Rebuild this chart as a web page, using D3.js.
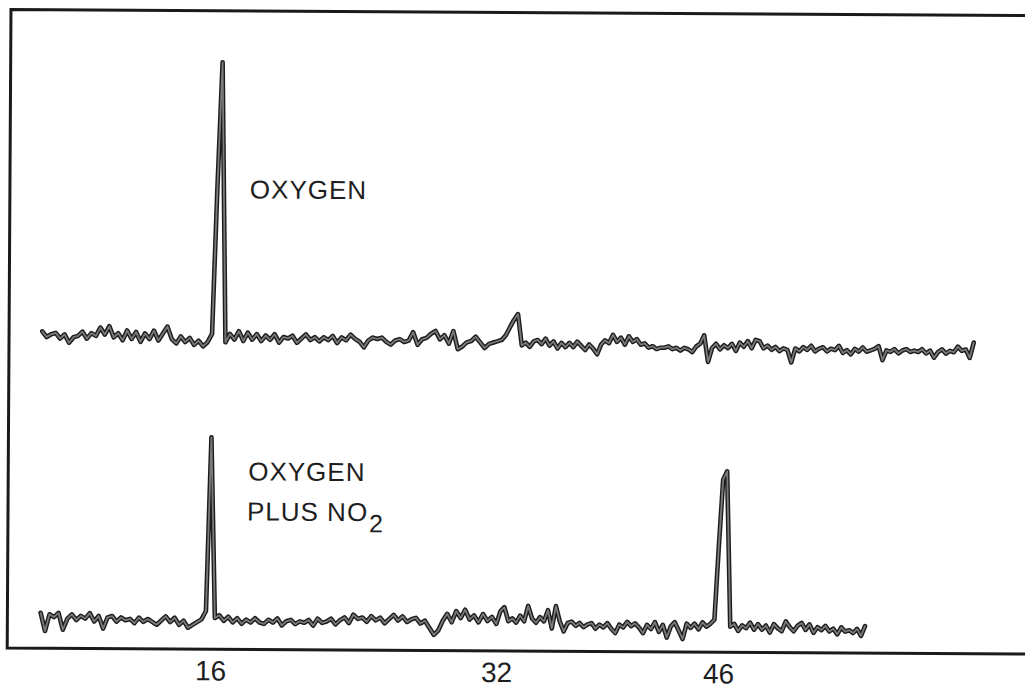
<!DOCTYPE html>
<html>
<head>
<meta charset="utf-8">
<script src="https://cdn.jsdelivr.net/npm/d3@7"></script>
<style>
  html, body { margin: 0; background: #fff; }
  svg { display: block; }
  text { font-family: "Liberation Sans", "DejaVu Sans", sans-serif; fill: #1e1e1e; }
</style>
</head>
<body>
<svg id="chart" width="1025" height="692"></svg>
<script>
// Mass numbers marked under the recorder trace
const massTicks = [16, 32, 46];

// Both traces are sampled on the same mass grid
const scanStart = 6.5;
const scanStep = 0.25;

// Recorder deflection (relative units) for pure oxygen, m/e 6.5 ... 62
const oxygenTrace = [
  3.5, 1.5, 2.5, 3, 1, 2.5, -0.5, 1.5,
  2, 3.5, 1, 3, 2, 5, 2.5, 5.5,
  1.5, 3, 0.5, 4, 1, 3.5, 0, 3,
  1, 4, 0.5, 3, 5.5, 1, -0.5, 2,
  0, 1.5, -1, 0.5, -1.5, 0, 3, 55,
  100, 0, 3, 1, 4, 0.5, 3.5, 1,
  3, 0.5, 2.5, 1, 3, 0, 2, 1.5,
  2.5, 0, 1.5, 3, 1, 2, 0.5, 2,
  1, 2.5, 0, 2, 1, 3, 1.5, 0.5,
  -1.5, 1, 2, 1.5, 2, 0.5, -0.5, 1,
  1.5, 0.5, 1, 4, -0.5, 1.5, 2, 3.5,
  4.5, 1.5, 3, 0, 4.5, -2, -1, 0.5,
  1, 2.5, 0.5, -1.5, 0, 0.5, 1, 1.5,
  3.2, 6, 8.6, 10.7, -0.5, 0.5, -1, 1,
  1.5, 0, 2, -0.5, 1, -1.5, 0.5, -1,
  0.5, -1, 1, -0.5, -2, 0, -1.5, -3.5,
  0, 1.5, 0.5, 3.5, 1, 2.5, 0, 3,
  1, 2, 0, 0.5, -1, -0.5, -1.5, -1,
  -1, -0.5, -1.5, -1, -2, -1, -1.5, -2.5,
  -0.5, 0.5, 3.5, -6, -1, 0.5, -1.5, 0,
  -1, 0.5, -2, 1, -0.5, 1.5, -1, 2,
  1.5, -1, 0, -1.5, -0.5, -2, -1, -1.5,
  -6, -1, -2, -0.5, -1.5, 0, -2, -1,
  -0.5, -2, -1, -1.5, 0, -2.5, -1.5, -3,
  -1, -2, -0.5, -2, -1.5, -1, 0, -5,
  -1.5, -2, -1, -2.5, -1.5, -1, -2, -1.5,
  -2, -1, -2.5, -1.5, -4, -2, -1, -2.5,
  -1.5, -2, 0, -1.5, -1, -4, 1.5
];

// Recorder deflection for oxygen plus NO2, m/e 6.5 ... 55.25
const no2Trace = [
  3, -3.5, 2.5, 1.5, 3, -3, 1, 2.5,
  0.5, 2, 1, 3, 0, 2, -2.5, 1.5,
  2, 0, 1.5, 0.5, 1, -0.5, 1.5, 0,
  1, 0, -1, 0.5, 2, 0, 1.5, -1,
  0.5, -2, -1, 0, 1, 4, 66, 1.5,
  2.5, 0.5, 2, 0, 1.5, -0.5, 1, 0,
  1.5, 0, -0.5, 1, 0, 1.5, -1, 0.5,
  1, -0.5, 0.5, 0, 1, -1, 1.5, 0,
  0.5, 1.5, -0.5, 1, 2, 0, 3, 1.5,
  2, 0.5, 2.5, 1, 2, 0, 1.5, 3,
  1, 2.5, 0.5, 1.5, 2, 0, 1, -1.5,
  -4, -2.5, 1, 3.5, 0.5, 4.5, 2, 5,
  1.5, 3, 0.5, 3.5, 1, 2.5, 0, 4.5,
  6, 1, 2, 0.5, 3, 1, 6.5, 2,
  0.5, 2.5, 1, 5, -1.5, 6.5, 1, -2.5,
  0.5, 1, -0.5, 0.5, -1, 0, 0.5, -1.5,
  0, -1, 0.5, -1.5, -3, 0, -1, 1,
  -0.5, 0.5, -1, -3, 0, -1.5, 1, -2.5,
  0, -4.5, -0.5, 1, -2, -5, 0.5, -1,
  0.5, -1.5, 1, -0.5, 0.5, 2, 28, 52,
  55, -0.5, 0.5, -2, 0, -1, 1, -1.5,
  0.5, -1.5, 0, -2.5, 0.5, -1, -2, 1.5,
  -0.5, -2, 0, 1, -1.5, 0.5, -2.5, -0.5,
  -1.5, 0, -2, -1, -3, -0.5, -2, -1.5,
  -2.5, -1, -3.5, 0
];

const svg = d3.select("#chart");
// the whole sheet sits very slightly rotated
const sheet = svg.append("g").attr("transform", "rotate(0.34,512,346)");

// mass scale (the recorder sweep is not linear in mass)
const x = d3.scaleLinear().domain(massTicks).range([212, 498, 720]);
const yTop = d3.scaleLinear().domain([0, 100]).range([344, 64]);
const yBottom = d3.scaleLinear().domain([0, 100]).range([624, 344]);

// open frame: top, left and bottom edges
sheet.append("path")
  .attr("d", "M1040,12.5 L9,12.5 L9,651 L1040,651")
  .attr("fill", "none")
  .attr("stroke", "#1a1a1a")
  .attr("stroke-width", 3);

// pen trace: dark edges with a grey core
function drawTrace(values, yScale) {
  const pts = values.map((v, i) => [scanStart + i * scanStep, v]);
  const line = d3.line().x(d => x(d[0])).y(d => yScale(d[1]));
  const g = sheet.append("g");
  g.append("path").attr("d", line(pts))
    .attr("fill", "none").attr("stroke", "#1c1c1c")
    .attr("stroke-width", 4.6).attr("stroke-linejoin", "round").attr("stroke-linecap", "round");
  g.append("path").attr("d", line(pts))
    .attr("fill", "none").attr("stroke", "#7a7a7a")
    .attr("stroke-width", 1.8).attr("stroke-linejoin", "round").attr("stroke-linecap", "round");
}

drawTrace(oxygenTrace, yTop);
drawTrace(no2Trace, yBottom);

// trace captions
const capSize = 26;
sheet.append("text").attr("x", 249).attr("y", 200)
  .attr("font-size", capSize).attr("letter-spacing", 1).text("OXYGEN");
sheet.append("text").attr("x", 249).attr("y", 482)
  .attr("font-size", capSize).attr("letter-spacing", 1).text("OXYGEN");
const plus = sheet.append("text").attr("x", 248).attr("y", 522)
  .attr("font-size", capSize).attr("letter-spacing", 1);
plus.append("tspan").text("PLUS NO");
plus.append("tspan").attr("font-size", 25).attr("dy", 11).attr("dx", 1).text("2");

// mass axis labels
const axis = d3.axisBottom(x).tickValues(massTicks).tickSize(0).tickPadding(0)
  .tickFormat(d3.format("d"));
const axisG = sheet.append("g").attr("transform", "translate(0,662)").call(axis);
axisG.select(".domain").remove();
axisG.selectAll("text")
  .attr("font-size", 28)
  .attr("dy", "0.72em")
  .style("font-family", "\"Liberation Sans\", \"DejaVu Sans\", sans-serif")
  .attr("fill", "#1e1e1e");
</script>
</body>
</html>
